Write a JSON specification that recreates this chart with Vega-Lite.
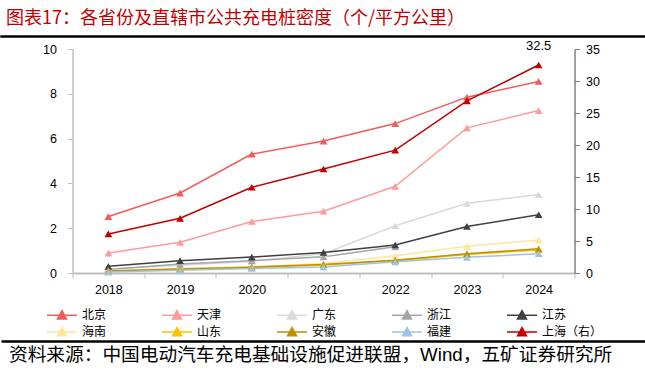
{
  "$schema": "https://vega.github.io/schema/vega-lite/v6.json",
  "padding": {"left": 0, "top": 9, "right": 0, "bottom": 0},
  "background": "white",
  "config": {
    "font": "Liberation Sans, Noto Sans CJK SC",
    "view": {"stroke": null}
  },
  "datasets": {
    "density": [
      {"region": "北京", "year": "2018", "value": 2.52, "axis": "left"},
      {"region": "北京", "year": "2019", "value": 3.57, "axis": "left"},
      {"region": "北京", "year": "2020", "value": 5.31, "axis": "left"},
      {"region": "北京", "year": "2021", "value": 5.89, "axis": "left"},
      {"region": "北京", "year": "2022", "value": 6.67, "axis": "left"},
      {"region": "北京", "year": "2023", "value": 7.85, "axis": "left"},
      {"region": "北京", "year": "2024", "value": 8.55, "axis": "left"},
      {"region": "天津", "year": "2018", "value": 0.89, "axis": "left"},
      {"region": "天津", "year": "2019", "value": 1.37, "axis": "left"},
      {"region": "天津", "year": "2020", "value": 2.30, "axis": "left"},
      {"region": "天津", "year": "2021", "value": 2.76, "axis": "left"},
      {"region": "天津", "year": "2022", "value": 3.87, "axis": "left"},
      {"region": "天津", "year": "2023", "value": 6.48, "axis": "left"},
      {"region": "天津", "year": "2024", "value": 7.25, "axis": "left"},
      {"region": "广东", "year": "2018", "value": 0.18, "axis": "left"},
      {"region": "广东", "year": "2019", "value": 0.35, "axis": "left"},
      {"region": "广东", "year": "2020", "value": 0.52, "axis": "left"},
      {"region": "广东", "year": "2021", "value": 0.86, "axis": "left"},
      {"region": "广东", "year": "2022", "value": 2.11, "axis": "left"},
      {"region": "广东", "year": "2023", "value": 3.11, "axis": "left"},
      {"region": "广东", "year": "2024", "value": 3.50, "axis": "left"},
      {"region": "浙江", "year": "2018", "value": 0.16, "axis": "left"},
      {"region": "浙江", "year": "2019", "value": 0.40, "axis": "left"},
      {"region": "浙江", "year": "2020", "value": 0.55, "axis": "left"},
      {"region": "浙江", "year": "2021", "value": 0.72, "axis": "left"},
      {"region": "浙江", "year": "2022", "value": 1.17, "axis": "left"},
      {"region": "江苏", "year": "2018", "value": 0.30, "axis": "left"},
      {"region": "江苏", "year": "2019", "value": 0.55, "axis": "left"},
      {"region": "江苏", "year": "2020", "value": 0.71, "axis": "left"},
      {"region": "江苏", "year": "2021", "value": 0.92, "axis": "left"},
      {"region": "江苏", "year": "2022", "value": 1.25, "axis": "left"},
      {"region": "江苏", "year": "2023", "value": 2.08, "axis": "left"},
      {"region": "江苏", "year": "2024", "value": 2.60, "axis": "left"},
      {"region": "海南", "year": "2018", "value": 0.10, "axis": "left"},
      {"region": "海南", "year": "2019", "value": 0.20, "axis": "left"},
      {"region": "海南", "year": "2020", "value": 0.28, "axis": "left"},
      {"region": "海南", "year": "2021", "value": 0.42, "axis": "left"},
      {"region": "海南", "year": "2022", "value": 0.77, "axis": "left"},
      {"region": "海南", "year": "2023", "value": 1.19, "axis": "left"},
      {"region": "海南", "year": "2024", "value": 1.47, "axis": "left"},
      {"region": "山东", "year": "2018", "value": 0.08, "axis": "left"},
      {"region": "山东", "year": "2019", "value": 0.17, "axis": "left"},
      {"region": "山东", "year": "2020", "value": 0.25, "axis": "left"},
      {"region": "山东", "year": "2021", "value": 0.36, "axis": "left"},
      {"region": "山东", "year": "2022", "value": 0.55, "axis": "left"},
      {"region": "山东", "year": "2023", "value": 0.83, "axis": "left"},
      {"region": "山东", "year": "2024", "value": 1.03, "axis": "left"},
      {"region": "安徽", "year": "2018", "value": 0.09, "axis": "left"},
      {"region": "安徽", "year": "2019", "value": 0.18, "axis": "left"},
      {"region": "安徽", "year": "2020", "value": 0.26, "axis": "left"},
      {"region": "安徽", "year": "2021", "value": 0.38, "axis": "left"},
      {"region": "安徽", "year": "2022", "value": 0.57, "axis": "left"},
      {"region": "安徽", "year": "2023", "value": 0.86, "axis": "left"},
      {"region": "安徽", "year": "2024", "value": 1.08, "axis": "left"},
      {"region": "福建", "year": "2018", "value": 0.04, "axis": "left"},
      {"region": "福建", "year": "2019", "value": 0.12, "axis": "left"},
      {"region": "福建", "year": "2020", "value": 0.20, "axis": "left"},
      {"region": "福建", "year": "2021", "value": 0.27, "axis": "left"},
      {"region": "福建", "year": "2022", "value": 0.50, "axis": "left"},
      {"region": "福建", "year": "2023", "value": 0.70, "axis": "left"},
      {"region": "福建", "year": "2024", "value": 0.86, "axis": "left"},
      {"region": "上海（右）", "year": "2018", "value": 6.1, "axis": "right"},
      {"region": "上海（右）", "year": "2019", "value": 8.55, "axis": "right"},
      {"region": "上海（右）", "year": "2020", "value": 13.4, "axis": "right"},
      {"region": "上海（右）", "year": "2021", "value": 16.25, "axis": "right"},
      {"region": "上海（右）", "year": "2022", "value": 19.2, "axis": "right"},
      {"region": "上海（右）", "year": "2023", "value": 26.9, "axis": "right"},
      {"region": "上海（右）", "year": "2024", "value": 32.5, "axis": "right"}
    ]
  },
  "vconcat": [
    {
      "width": 645,
      "height": 1,
      "view": {"stroke": "#000000", "strokeWidth": 1.5},
      "title": {
        "text": "图表17：各省份及直辖市公共充电桩密度（个/平方公里）",
        "anchor": "start",
        "font": "Noto Sans CJK SC",
        "fontSize": 18,
        "fontWeight": "normal",
        "color": "#C00000",
        "offset": 8,
        "dx": 5
      },
      "data": {"values": []},
      "mark": "rule",
      "encoding": {}
    },
    {
      "width": 502,
      "height": 224,
      "data": {"name": "density"},
      "encoding": {
        "x": {
          "field": "year",
          "type": "ordinal",
          "bandPosition": 0.5,
          "scale": {"type": "band", "paddingInner": 0, "paddingOuter": 0},
          "axis": {
            "title": null,
            "labelAngle": 0,
            "labelFont": "Liberation Sans",
            "labelFontSize": 12.5,
            "labelColor": "#000000",
            "labelPadding": 5,
            "tickBand": "extent",
            "tickSize": 5,
            "tickColor": "#BFBFBF",
            "domainColor": "#BFBFBF",
            "domainWidth": 2,
            "grid": false
          }
        },
        "color": {
          "field": "region",
          "type": "nominal",
          "scale": {
            "domain": ["北京", "天津", "广东", "浙江", "江苏", "海南", "山东", "安徽", "福建", "上海（右）"],
            "range": ["#F35B5B", "#FF9B9B", "#D9D9D9", "#A6A6A6", "#404040", "#FFE699", "#FFC000", "#BF9000", "#9DC3E6", "#C00000"]
          },
          "legend": {
            "title": null,
            "orient": "none",
            "legendX": 55,
            "legendY": 273,
            "direction": "horizontal",
            "columns": 5,
            "gridAlign": "all",
            "padding": 0,
            "columnPadding": 16,
            "rowPadding": 2,
            "symbolType": "M-3,0H3M-0.9,0.75L0,-0.9L0.9,0.75Z",
            "symbolSize": 100,
            "symbolStrokeWidth": 1.5,
            "labelOffset": 14,
            "labelFont": "Noto Sans CJK SC",
            "labelFontSize": 12,
            "labelColor": "#000000",
            "labelLimit": 200,
            "encode": {
              "symbols": {
                "update": {
                  "fill": {"scale": "color", "field": "value"},
                  "stroke": {"scale": "color", "field": "value"},
                  "opacity": {"value": 1}
                }
              }
            }
          }
        }
      },
      "layer": [
        {
          "transform": [{"filter": "datum.axis === 'left'"}],
          "mark": {
            "type": "line",
            "strokeWidth": 1.5,
            "point": {"shape": "triangle-up", "filled": true, "size": 60, "opacity": 1}
          },
          "encoding": {
            "y": {
              "field": "value",
              "type": "quantitative",
              "scale": {"domain": [0, 10]},
              "axis": {
                "title": null,
                "orient": "left",
                "values": [0, 2, 4, 6, 8, 10],
                "grid": false,
                "labelFont": "Liberation Sans",
                "labelFontSize": 12.5,
                "labelColor": "#000000",
                "labelPadding": 11,
                "tickSize": 5,
                "tickColor": "#BFBFBF",
                "domainColor": "#BFBFBF",
                "domainWidth": 1.5
              }
            }
          }
        },
        {
          "transform": [{"filter": "datum.axis === 'right'"}],
          "encoding": {
            "y": {
              "field": "value",
              "type": "quantitative",
              "scale": {"domain": [0, 35]},
              "axis": {
                "title": null,
                "orient": "right",
                "values": [0, 5, 10, 15, 20, 25, 30, 35],
                "grid": false,
                "labelFont": "Liberation Sans",
                "labelFontSize": 12.5,
                "labelColor": "#000000",
                "labelPadding": 6,
                "labelOverlap": false,
                "tickSize": 5,
                "tickColor": "#808080",
                "domainColor": "#808080",
                "domainWidth": 1.5
              }
            }
          },
          "layer": [
            {
              "mark": {
                "type": "line",
                "strokeWidth": 1.5,
                "point": {"shape": "triangle-up", "filled": true, "size": 60, "opacity": 1}
              }
            },
            {
              "transform": [{"filter": "datum.year === '2024'"}],
              "mark": {"type": "text", "dy": -19, "font": "Liberation Sans", "fontSize": 13},
              "encoding": {
                "text": {"field": "value", "type": "quantitative", "format": ".1f"},
                "color": {"value": "#000000"}
              }
            }
          ]
        }
      ],
      "resolve": {"scale": {"y": "independent"}}
    },
    {
      "width": 645,
      "height": 1,
      "data": {"values": [{"v": 0}]},
      "mark": {"type": "point", "opacity": 0},
      "encoding": {
        "x": {
          "field": "v",
          "type": "quantitative",
          "axis": {
            "orient": "bottom",
            "offset": 55,
            "title": null,
            "labels": false,
            "ticks": false,
            "grid": false,
            "domainColor": "#000000",
            "domainWidth": 2.5
          }
        }
      },
      "title": {
        "text": "资料来源：中国电动汽车充电基础设施促进联盟，Wind，五矿证券研究所",
        "orient": "bottom",
        "anchor": "start",
        "font": "Liberation Sans, Noto Sans CJK SC",
        "fontSize": 18.7,
        "fontWeight": "normal",
        "color": "#000000",
        "offset": 5,
        "dx": 8
      }
    }
  ],
  "spacing": 12,
  "bounds": "flush",
  "center": true
}
